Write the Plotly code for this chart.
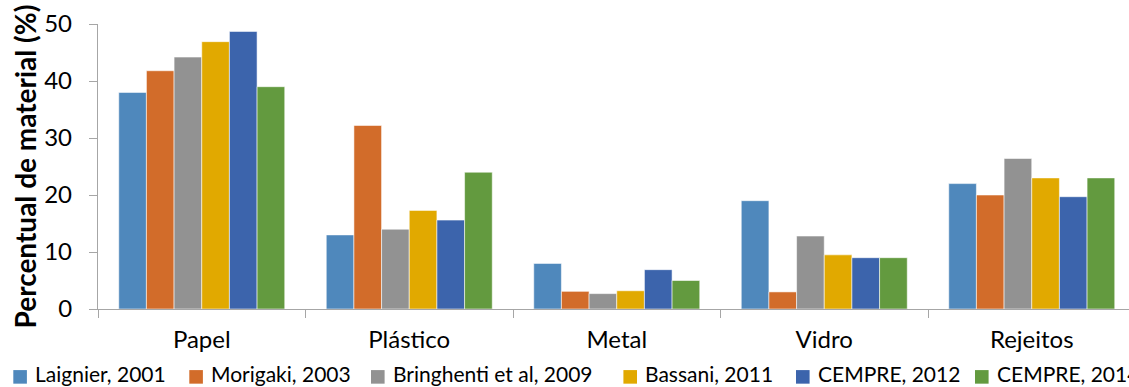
import plotly.graph_objects as go

# Material categories and the share (%) reported by each study
categories = ["Papel", "Plástico", "Metal", "Vidro", "Rejeitos"]
series_names = [
    "Laignier, 2001",
    "Morigaki, 2003",
    "Bringhenti et al, 2009",
    "Bassani, 2011",
    "CEMPRE, 2012",
    "CEMPRE, 2014",
]
laignier_2001 = [38.0, 13.0, 8.0, 19.0, 22.0]
morigaki_2003 = [41.8, 32.2, 3.1, 3.0, 20.0]
bringhenti_2009 = [44.2, 14.0, 2.7, 12.8, 26.4]
bassani_2011 = [46.9, 17.3, 3.2, 9.5, 23.0]
cempre_2012 = [48.7, 15.6, 6.9, 9.0, 19.7]
cempre_2014 = [39.0, 24.0, 5.0, 9.0, 23.0]
y_ticks = [0, 10, 20, 30, 40, 50]

series_values = [laignier_2001, morigaki_2003, bringhenti_2009,
                 bassani_2011, cempre_2012, cempre_2014]
colors = ["#4F88BC", "#D26C2A", "#929292", "#E1A900", "#3C64AC", "#639A3F"]

FONT = "Lato, 'Open Sans', sans-serif"
AXIS_GRAY = "#A6A6A6"
W, H = 1129, 387
M_L, M_R, M_T, M_B = 98, 0, 24, 77.5

fig = go.Figure()
for name, vals, col in zip(series_names, series_values, colors):
    fig.add_trace(go.Bar(
        x=categories, y=vals, name=name,
        marker=dict(color=col, line=dict(color="rgba(255,255,255,0.55)", width=1)),
        showlegend=False,
    ))

# x range runs slightly past the right edge so the last group is cut like a cropped panel
plot_w = W - M_L - M_R
cat_px = 207.5
x_max = -0.5 + plot_w / cat_px

fig.update_layout(
    width=W, height=H,
    margin=dict(l=M_L, r=M_R, t=M_T, b=M_B),
    paper_bgcolor="white", plot_bgcolor="white",
    barmode="group", bargap=0.2, bargroupgap=0,
    font=dict(family=FONT, color="#000000", size=22),
    xaxis=dict(
        range=[-0.5, x_max], showgrid=False, zeroline=False,
        showline=True, linecolor=AXIS_GRAY, linewidth=1.3,
        ticks="outside", tickson="boundaries", ticklen=8, tickcolor=AXIS_GRAY,
        tickwidth=1.3, tickfont=dict(size=24), ticklabelstandoff=9,
    ),
    yaxis=dict(
        range=[0, 50], tickvals=y_ticks, showgrid=False, zeroline=False,
        showline=True, linecolor=AXIS_GRAY, linewidth=1.3,
        ticks="outside", ticklen=8, tickcolor=AXIS_GRAY, tickwidth=1.3,
        tickfont=dict(size=24), ticklabelstandoff=12,
    ),
)

def px_to_paper_x(px):
    return (px - M_L) / plot_w

def py_to_paper_y(py):
    return (H - M_B - py) / (H - M_T - M_B)

# Rotated y-axis title
fig.add_annotation(
    text="<b>Percentual de material (%)</b>", textangle=-90,
    xref="paper", yref="paper", x=px_to_paper_x(24), y=0.5,
    xanchor="center", yanchor="middle", showarrow=False,
    font=dict(family=FONT, size=28, color="#000000"),
)

# Legend row along the bottom: colour key squares and labels
legend_left = [13.3, 189.3, 371, 623.4, 796, 975]
sq = 13.6
sq_top, sq_bot = 370.7, 384.3
for name, col, left in zip(series_names, colors, legend_left):
    fig.add_shape(
        type="rect", xref="paper", yref="paper",
        x0=px_to_paper_x(left), x1=px_to_paper_x(left + sq),
        y0=py_to_paper_y(sq_bot), y1=py_to_paper_y(sq_top),
        fillcolor=col, line=dict(width=0),
    )
    fig.add_annotation(
        text=name, xref="paper", yref="paper",
        x=px_to_paper_x(left + sq + 6), y=py_to_paper_y(374),
        xanchor="left", yanchor="middle", showarrow=False,
        font=dict(family=FONT, size=21, color="#000000"),
    )

fig.write_html("out.html")
